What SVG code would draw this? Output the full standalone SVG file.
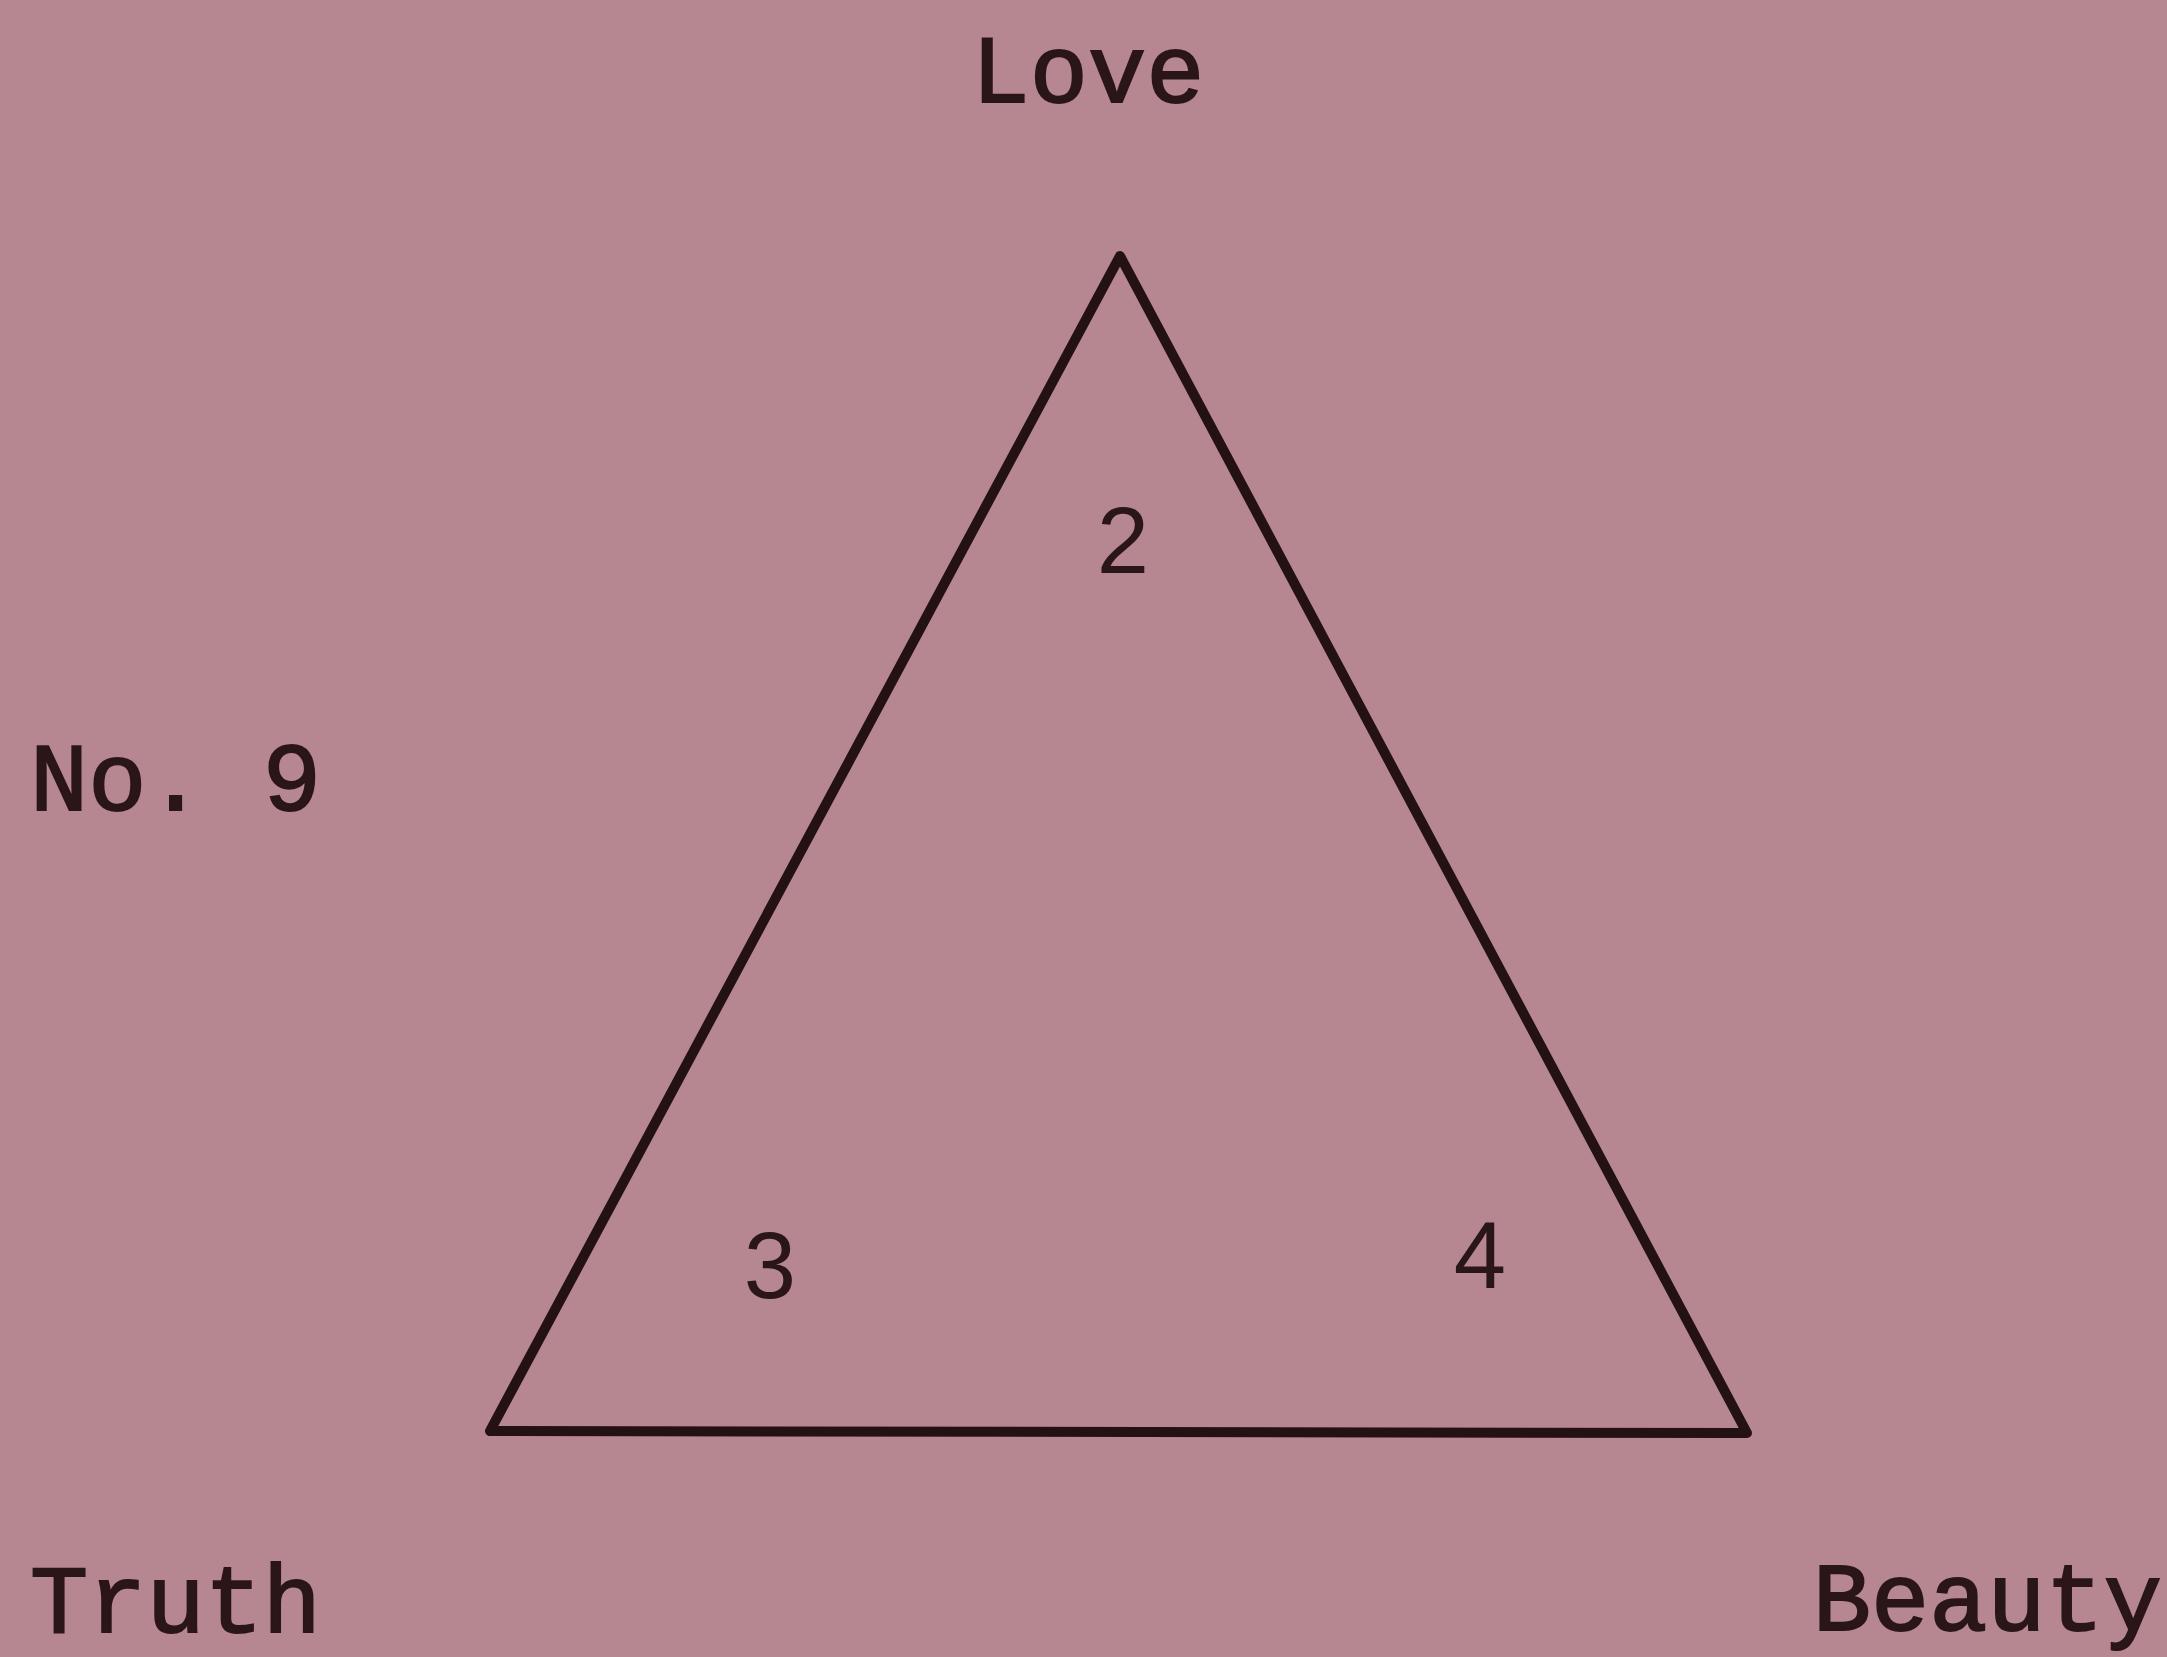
<svg xmlns="http://www.w3.org/2000/svg" width="2167" height="1657" viewBox="0 0 2167 1657">
<style>
.lbl{font-family:"Liberation Mono","Courier New",monospace;font-size:97px;fill:#2a1519;stroke:#2a1519;stroke-width:2}
.num{font-family:"Liberation Sans",Arial,sans-serif;font-size:94px;fill:#2a1519}
.edge{stroke:#241114;stroke-width:10;fill:none;stroke-linejoin:round;stroke-linecap:round}
</style>
<rect width="2167" height="1657" fill="#b68691"/>
<g id="connectors">
<path class="edge" d="M1120,256 L490,1431 L1747,1433 Z"/>
</g>
<g id="love"><text class="lbl" x="1088" y="102" text-anchor="middle">Love</text></g>
<g id="title"><text class="lbl" x="30" y="810">No. 9</text></g>
<g id="truth"><text class="lbl" x="30" y="1632">Truth</text></g>
<g id="beauty"><text class="lbl" x="2162" y="1630" text-anchor="end">Beauty</text></g>
<g id="n2"><text class="num" x="1123" y="573" text-anchor="middle">2</text></g>
<g id="n3"><text class="num" x="770" y="1298" text-anchor="middle">3</text></g>
<g id="n4"><text class="num" x="1480" y="1288" text-anchor="middle">4</text></g>
</svg>
